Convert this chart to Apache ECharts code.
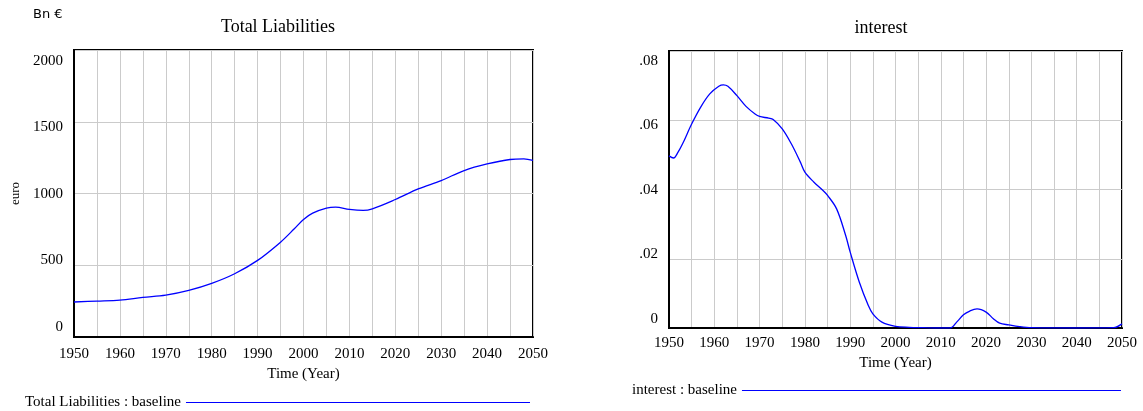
<!DOCTYPE html>
<html>
<head>
<meta charset="utf-8">
<script src="https://cdn.jsdelivr.net/npm/echarts@6/dist/echarts.min.js"></script>
<style>
html,body{margin:0;padding:0;background:#fff;}
#chart{width:1143px;height:411px;}
</style>
</head>
<body>
<div id="chart"></div>
<script>
// ---- data ----
const liabYears  = [1950, 1955, 1960, 1965, 1970, 1975, 1980, 1985, 1990, 1995, 1998, 2000, 2002, 2005, 2007, 2010, 2013, 2015, 2020, 2025, 2030, 2035, 2040, 2045, 2048, 2050];
const liabValues = [244, 250, 257, 276, 292, 325, 374, 441, 534, 661, 754, 819, 863, 898, 905, 889, 882, 893, 958, 1032, 1090, 1160, 1206, 1237, 1241, 1230];

const intYears  = [1950, 1951, 1952, 1953, 1955, 1957, 1959, 1961, 1962, 1963, 1965, 1967, 1969, 1970, 1972, 1973, 1975, 1977, 1979, 1980, 1982, 1984, 1985, 1987, 1989, 1990, 1992, 1994, 1995, 1997, 2000, 2003, 2006, 2010, 2012.1, 2013.5, 2015, 2016.4, 2018, 2020, 2021.6, 2023, 2025, 2027.4, 2030, 2040, 2048.1, 2050];
const intValues = [0.0497, 0.0491, 0.0508, 0.0532, 0.0589, 0.0638, 0.0676, 0.0698, 0.0702, 0.0698, 0.0671, 0.0640, 0.0618, 0.0611, 0.0606, 0.0602, 0.0575, 0.0532, 0.0479, 0.0450, 0.0421, 0.0397, 0.0383, 0.0344, 0.0267, 0.0219, 0.0133, 0.0065, 0.0041, 0.0017, 0.0005, 0.0002, 0.0001, 0, 0, 0.0017, 0.0038, 0.0049, 0.0055, 0.0046, 0.0027, 0.0014, 0.0009, 0.0004, 0.0001, 0, 0.0001, 0.0012];

const xTicks = [1950, 1960, 1970, 1980, 1990, 2000, 2010, 2020, 2030, 2040, 2050];
const liabTicks = [0, 500, 1000, 1500, 2000];
const intTicks = [0, 0.02, 0.04, 0.06, 0.08];

const leftTitle = 'Total Liabilities';
const rightTitle = 'interest';
const leftSeriesName = 'Total Liabilities : baseline';
const rightSeriesName = 'interest : baseline';

// ---- chart ----
const serif = 'Liberation Serif, Times New Roman, serif';
const chart = echarts.init(document.getElementById('chart'), null, {renderer: 'canvas'});

function xAxisFor(gi, gap, margin) {
  return {
    type: 'value', gridIndex: gi, min: 1950, max: 2050, interval: 5,
    name: 'Time (Year)', nameLocation: 'middle', nameGap: gap,
    nameTextStyle: {fontFamily: serif, fontSize: 15, color: '#000'},
    axisLine: {show: true, lineStyle: {color: '#000', width: 2}},
    axisTick: {show: false},
    axisLabel: {
      fontFamily: serif, fontSize: 15, color: '#000', margin: margin,
      showMinLabel: true, showMaxLabel: true,
      formatter: v => (xTicks.indexOf(v) >= 0 ? String(v) : '')
    },
    splitLine: {show: true, lineStyle: {color: '#cbcbcb', width: 1}}
  };
}

const fmtInt = v => (Math.abs(v) < 1e-9 ? '0' : v.toFixed(2).replace(/^0/, ''));

const option = {
  backgroundColor: '#fff',
  animation: false,
  graphic: [
    {type: 'text', left: 33, top: 8, style: {text: 'Bn €', font: '13px DejaVu Sans', fill: '#000'}},
    {type: 'text', x: 278, y: 27, style: {text: leftTitle, font: '18px Liberation Serif', fill: '#000', align: 'center', verticalAlign: 'middle'}},
    {type: 'text', x: 881, y: 28, style: {text: rightTitle, font: '18px Liberation Serif', fill: '#000', align: 'center', verticalAlign: 'middle'}}
  ],
  grid: [
    {left: 74, top: 50, width: 459, height: 287, show: true, borderColor: '#000', borderWidth: 2, backgroundColor: 'transparent', containLabel: false},
    {left: 669, top: 51, width: 453, height: 277, show: true, borderColor: '#000', borderWidth: 2, backgroundColor: 'transparent', containLabel: false}
  ],
  xAxis: [xAxisFor(0, 29, 10), xAxisFor(1, 25, 8)],
  yAxis: [
    {
      type: 'value', gridIndex: 0, min: 0, max: 2000, interval: 500,
      name: 'euro', nameLocation: 'middle', nameGap: 52,
      nameTextStyle: {fontFamily: serif, fontSize: 13, color: '#000'},
      axisLine: {show: true, lineStyle: {color: '#000', width: 2}},
      axisTick: {show: false},
      axisLabel: {show: false},
      splitLine: {show: true, lineStyle: {color: '#cbcbcb', width: 1}}
    },
    {
      // label-only axis (Vensim-style label placement)
      type: 'value', gridIndex: 0, position: 'left', min: -75.2, max: 2082.7,
      axisLine: {show: false}, axisTick: {show: false}, splitLine: {show: false},
      axisLabel: {fontFamily: serif, fontSize: 15, color: '#000', margin: 11, customValues: liabTicks, showMinLabel: true, showMaxLabel: true, formatter: v => String(Math.round(v))}
    },
    {
      type: 'value', gridIndex: 1, min: 0, max: 0.08, interval: 0.02,
      axisLine: {show: true, lineStyle: {color: '#000', width: 2}},
      axisTick: {show: false},
      axisLabel: {show: false},
      splitLine: {show: true, lineStyle: {color: '#cbcbcb', width: 1}}
    },
    {
      type: 'value', gridIndex: 1, position: 'left', min: -0.00279, max: 0.0831,
      axisLine: {show: false}, axisTick: {show: false}, splitLine: {show: false},
      axisLabel: {fontFamily: serif, fontSize: 15, color: '#000', margin: 11, customValues: intTicks, showMinLabel: true, showMaxLabel: true, formatter: fmtInt}
    }
  ],
  legend: [
    {
      data: [leftSeriesName], left: 25, top: 395, align: 'right', padding: 0,
      icon: 'rect', itemWidth: 344, itemHeight: 1, selectedMode: false,
      textStyle: {fontFamily: serif, fontSize: 15, color: '#000'}
    },
    {
      data: [rightSeriesName], left: 632, top: 383, align: 'right', padding: 0,
      icon: 'rect', itemWidth: 379, itemHeight: 1, selectedMode: false,
      textStyle: {fontFamily: serif, fontSize: 15, color: '#000'}
    }
  ],
  series: [
    {
      name: leftSeriesName, type: 'line', xAxisIndex: 0, yAxisIndex: 0,
      data: liabYears.map((y, i) => [y, liabValues[i]]),
      smooth: 0.35, showSymbol: false, symbol: 'none',
      lineStyle: {color: '#0000ff', width: 1.3}, itemStyle: {color: '#0000ff'}
    },
    {
      name: rightSeriesName, type: 'line', xAxisIndex: 1, yAxisIndex: 2,
      data: intYears.map((y, i) => [y, intValues[i]]),
      smooth: 0.35, showSymbol: false, symbol: 'none',
      lineStyle: {color: '#0000ff', width: 1.3}, itemStyle: {color: '#0000ff'}
    }
  ]
};
chart.setOption(option);
</script>
</body>
</html>
